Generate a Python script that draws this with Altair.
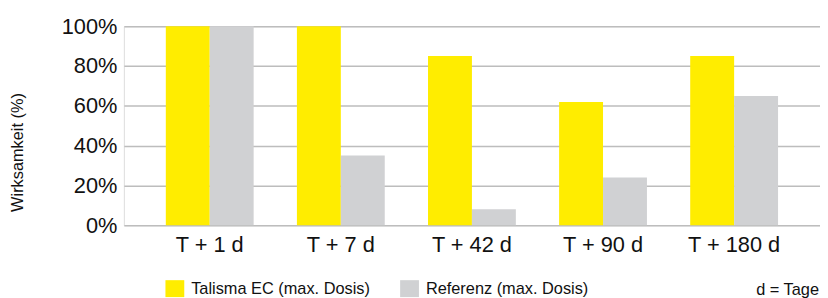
import altair as alt
import pandas as pd

categories = ["T + 1 d", "T + 7 d", "T + 42 d", "T + 90 d", "T + 180 d"]
series = ["Talisma EC (max. Dosis)", "Referenz (max. Dosis)"]
talisma = [100, 100, 85, 62, 85]
referenz = [100, 35, 8, 24, 65]
colors = ["#FFED00", "#D0D1D3"]
y_ticks = [0, 20, 40, 60, 80, 100]
note = ["d = Tage"]

rows = []
for c, a, b in zip(categories, talisma, referenz):
    rows.append({"zeit": c, "serie": series[0], "wert": a})
    rows.append({"zeit": c, "serie": series[1], "wert": b})
df = pd.DataFrame(rows)

FONT = "Liberation Sans"

bars = alt.Chart(df).mark_bar().encode(
    x=alt.X("zeit:N", sort=categories, title=None,
            scale=alt.Scale(paddingInner=0.33, paddingOuter=0.32),
            axis=alt.Axis(labelAngle=0, domain=False, ticks=False, labelFont=FONT,
                          labelFontSize=22, labelColor="#111111", labelPadding=9)),
    xOffset=alt.XOffset("serie:N", sort=series, scale=alt.Scale(paddingInner=0, paddingOuter=0)),
    y=alt.Y("wert:Q", scale=alt.Scale(domain=[0, 100], nice=False),
            axis=alt.Axis(values=y_ticks, labelExpr="datum.value + '%'", domain=False,
                          ticks=False, grid=True, gridColor="#BDBDBD", gridWidth=1.5,
                          labelFont=FONT, labelFontSize=22, labelColor="#111111",
                          labelPadding=7, title="Wirksamkeit (%)", titleFont=FONT,
                          titleFontSize=16.5, titleFontWeight="normal", titleColor="#111111",
                          titleX=-107, titleY=127, titleAngle=-90, titleAlign="center",
                          titleBaseline="middle")),
    color=alt.Color("serie:N", sort=series,
                    scale=alt.Scale(domain=series, range=colors),
                    legend=alt.Legend(orient="none", legendX=42, legendY=255,
                                      direction="horizontal", title=None,
                                      symbolType="M-1,-0.9H1V0.9H-1Z", symbolSize=361,
                                      symbolStrokeWidth=0, symbolOpacity=1,
                                      labelFont=FONT, labelFontSize=16.5,
                                      labelColor="#111111", labelOffset=7,
                                      columnPadding=30, labelLimit=400)),
)

note_df = pd.DataFrame({"t": note})
text = alt.Chart(note_df).mark_text(align="right", baseline="alphabetic", font=FONT,
                                    fontSize=16.5, color="#111111").encode(
    text="t:N", x=alt.value(702), y=alt.value(271)
)

chart = alt.layer(bars, text).properties(
    width=703, height=201,
    autosize=alt.AutoSizeParams(type="none"),
    padding={"left": 117, "top": 17, "right": 0, "bottom": 72},
).configure_view(stroke=None).configure(background="white")

chart.save("out.html", embed_options={"renderer": "svg", "actions": False})
